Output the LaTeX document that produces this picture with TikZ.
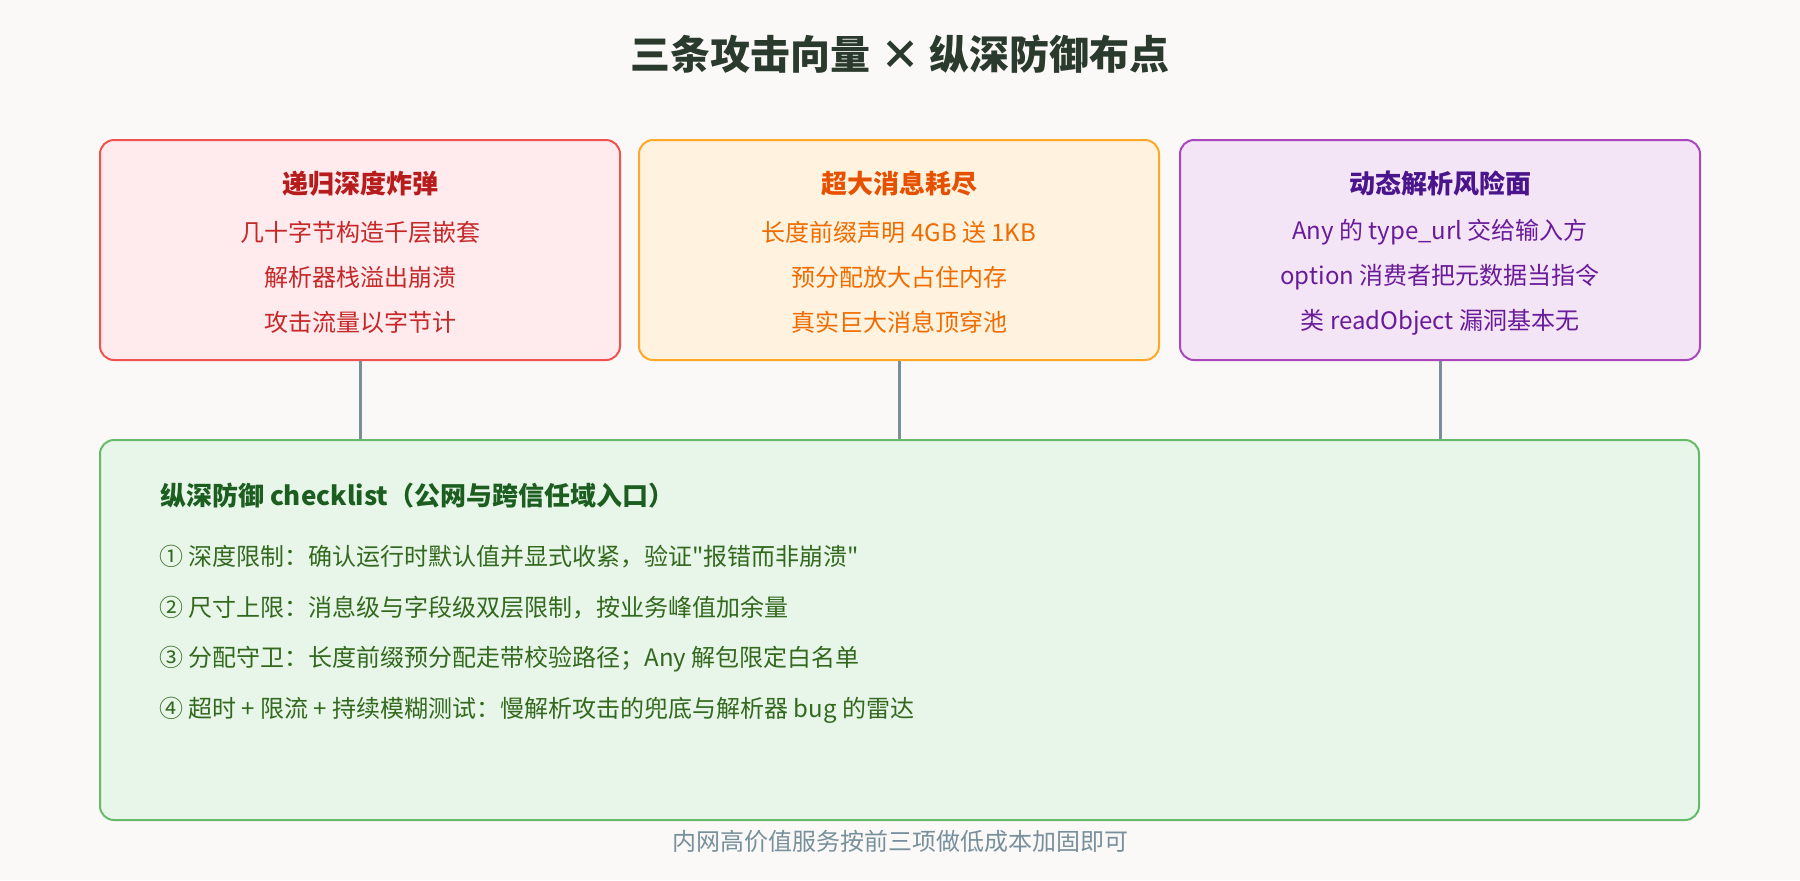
\documentclass[tikz,border=0pt]{standalone}
\usepackage{fontspec}
\setmainfont{Noto Sans CJK SC}
\newfontfamily\cjkfont{Noto Sans CJK SC}
\usepackage{tikz}
\usetikzlibrary{positioning}

\definecolor{bgc}{HTML}{FAF9F7}
\definecolor{titlec}{HTML}{2A3A2C}
\definecolor{bombline}{HTML}{EF5350}
\definecolor{bombfill}{HTML}{FFEBEE}
\definecolor{bombhead}{HTML}{B71C1C}
\definecolor{bombtext}{HTML}{C62828}
\definecolor{sizeline}{HTML}{FFA726}
\definecolor{sizefill}{HTML}{FFF3E0}
\definecolor{sizehead}{HTML}{E65100}
\definecolor{sizetext}{HTML}{EF6C00}
\definecolor{anyline}{HTML}{AB47BC}
\definecolor{anyfill}{HTML}{F3E5F5}
\definecolor{anyhead}{HTML}{4A148C}
\definecolor{anytext}{HTML}{6A1B9A}
\definecolor{checkline}{HTML}{66BB6A}
\definecolor{checkfill}{HTML}{E8F5E9}
\definecolor{checkhead}{HTML}{1B5E20}
\definecolor{checktext}{HTML}{33691E}
\definecolor{wirec}{HTML}{78909C}

\tikzset{
  card/.style={draw, line width=1pt, rounded corners=7pt, minimum width=260pt, minimum height=110pt, inner sep=0pt},
  cardhead/.style={font=\cjkfont\fontsize{13}{15}\selectfont\bfseries},
  cardline/.style={font=\cjkfont\fontsize{12}{14}\selectfont},
  wire/.style={draw=wirec, line width=1.5pt},
}

\begin{document}
\begin{tikzpicture}[x=0.5pt,y=-0.5pt]
\fill[bgc] (0,0) rectangle (1800,880);
\node[font=\cjkfont\fontsize{20}{24}\selectfont\bfseries, text=titlec] (title) at (900,54) {三条攻击向量 × 纵深防御布点};
%% attack vectors
\node[card, draw=bombline, fill=bombfill] (bomb) at (360,250) {};
\node[cardhead, text=bombhead] (bomb-0) at (360,184) {递归深度炸弹};
\foreach \t [count=\i] in {几十字节构造千层嵌套, 解析器栈溢出崩溃, 攻击流量以字节计}
  \node[cardline, text=bombtext] (bomb-\i) at (360,187+45*\i) {\t};
\node[card, draw=sizeline, fill=sizefill] (size) at (899,250) {};
\node[cardhead, text=sizehead] (size-0) at (899,184) {超大消息耗尽};
\foreach \t [count=\i] in {长度前缀声明 4GB 送 1KB, 预分配放大占住内存, 真实巨大消息顶穿池}
  \node[cardline, text=sizetext] (size-\i) at (899,187+45*\i) {\t};
\node[card, draw=anyline, fill=anyfill] (any) at (1440,250) {};
\node[cardhead, text=anyhead] (any-0) at (1440,184) {动态解析风险面};
\foreach \t [count=\i] in {Any 的 type\_url 交给输入方, option 消费者把元数据当指令, 类 readObject 漏洞基本无}
  \node[cardline, text=anytext] (any-\i) at (1440,187+45*\i) {\t};
%% checklist
\node[card, draw=checkline, fill=checkfill, minimum width=799.5pt, minimum height=190pt] (check) at (899.5,630) {};
\node[cardhead, text=checkhead, anchor=west] (check-0) at (153,496) {纵深防御 checklist（公网与跨信任域入口）};
\foreach \t [count=\i] in {① 深度限制：确认运行时默认值并显式收紧，验证"报错而非崩溃",
                           ② 尺寸上限：消息级与字段级双层限制，按业务峰值加余量,
                           ③ 分配守卫：长度前缀预分配走带校验路径；Any 解包限定白名单,
                           ④ 超时 + 限流 + 持续模糊测试：慢解析攻击的兜底与解析器 bug 的雷达}
  \node[cardline, text=checktext, anchor=west] (check-\i) at (152,506+51*\i) {\t};
%% wires
\foreach \n in {bomb, size, any}
  \draw[wire] (\n.south) -- (\n.south |- check.north);
\node[cardline, text=wirec] (note) at (900,841) {内网高价值服务按前三项做低成本加固即可};
\end{tikzpicture}
\end{document}
